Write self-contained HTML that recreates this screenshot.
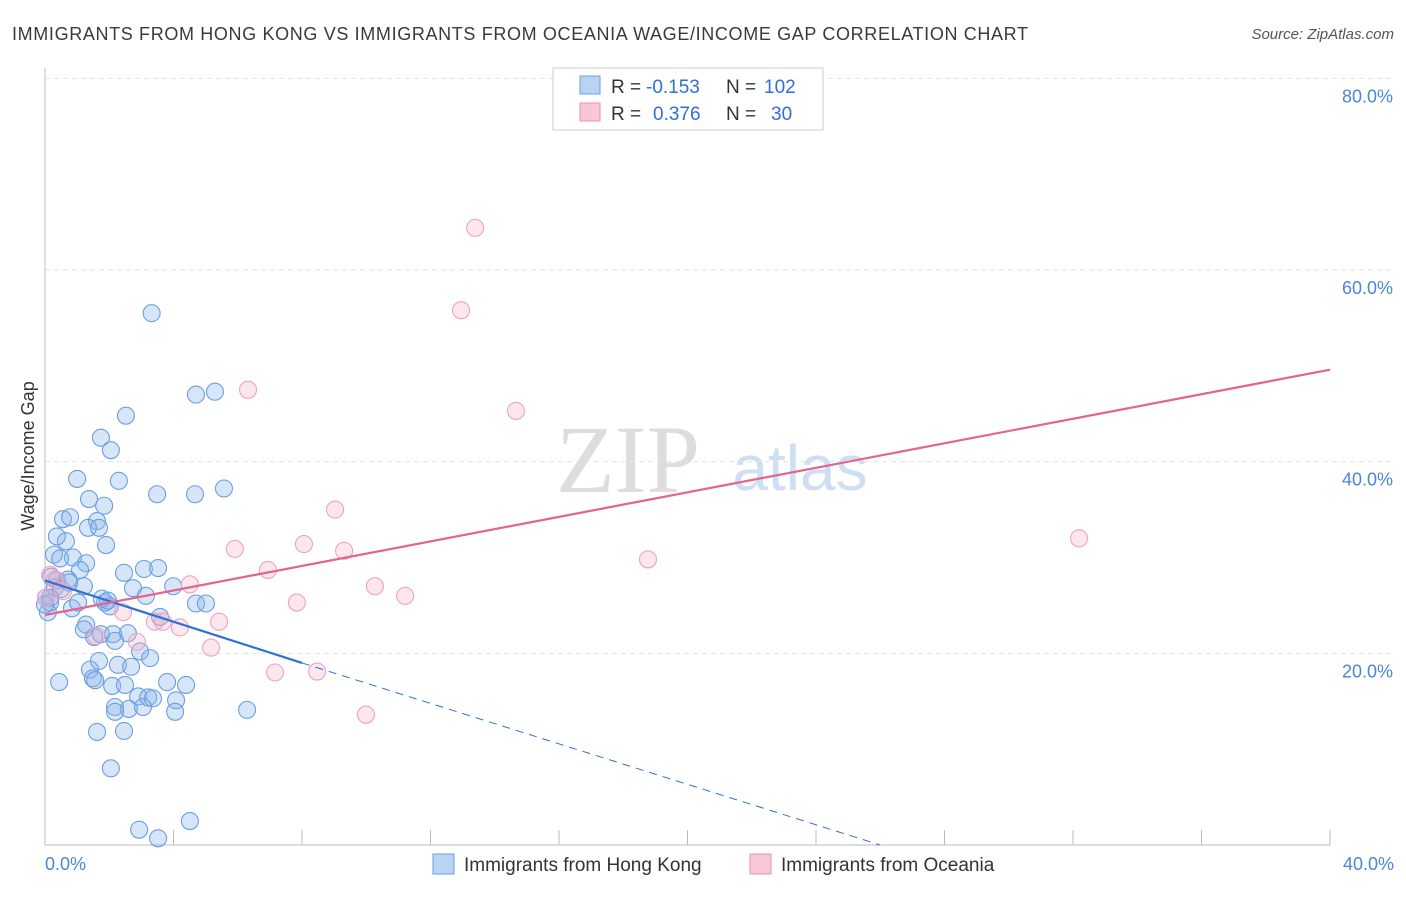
<!DOCTYPE html>
<html><head><meta charset="utf-8"><style>
body{margin:0;background:#fff;font-family:"Liberation Sans",sans-serif;}
</style></head><body>
<svg width="1406" height="892" xmlns="http://www.w3.org/2000/svg" font-family="Liberation Sans, sans-serif">
<text x="12" y="40" font-size="18" fill="#3a3a3a" textLength="1016">IMMIGRANTS FROM HONG KONG VS IMMIGRANTS FROM OCEANIA WAGE/INCOME GAP CORRELATION CHART</text>
<text x="1394" y="39" font-size="15" fill="#555" font-style="italic" text-anchor="end">Source: ZipAtlas.com</text>
<text x="628" y="492" font-size="96" fill="#ddd" font-family="Liberation Serif, serif" text-anchor="middle">ZIP</text>
<text x="800" y="490" font-size="64" fill="#cfdff3" text-anchor="middle">atlas</text>
<g id="grid"></g>
<line x1="45" y1="68" x2="45" y2="845" stroke="#bbb"/>
<line x1="45" y1="845" x2="1330" y2="845" stroke="#bbb"/>
<text x="34" y="456" font-size="18" fill="#333" text-anchor="middle" transform="rotate(-90 34 456)">Wage/Income Gap</text>
<g id="pts"></g>
<g id="lines"></g>
<g>
<rect x="553" y="68" width="270" height="62" fill="#fff" stroke="#ccc"/>
<rect x="580" y="76" width="20" height="18" fill="#b9d3f5" stroke="#6a9fe0"/>
<rect x="580" y="103" width="20" height="18" fill="#f9c6d6" stroke="#e893b0"/>
<text y="93" font-size="19" fill="#333"><tspan x="611">R =</tspan><tspan x="646" fill="#2f6fd6">-0.153</tspan><tspan x="726">N =</tspan><tspan x="764" fill="#2f6fd6">102</tspan></text>
<text y="120" font-size="19" fill="#333"><tspan x="611">R =</tspan><tspan x="653" fill="#2f6fd6">0.376</tspan><tspan x="726">N =</tspan><tspan x="771" fill="#2f6fd6">30</tspan></text>
</g>
<text x="45" y="870" font-size="18" fill="#4a86d8">0.0%</text>
<text x="1394" y="870" font-size="18" fill="#4a86d8" text-anchor="end">40.0%</text>
<g>
<rect x="433" y="854" width="21" height="20" fill="#b9d3f5" stroke="#6a9fe0"/>
<text x="464" y="871" font-size="19" fill="#333">Immigrants from Hong Kong</text>
<rect x="750" y="854" width="21" height="20" fill="#f9c6d6" stroke="#e893b0"/>
<text x="781" y="871" font-size="19" fill="#333">Immigrants from Oceania</text>
</g>
</svg>
<script>
const yTicks=[20,40,60,80];
const xTicks=[0,4,8,12,16,20,24,28,32,36,40];
const blueX=[3.32,5.29,4.70,2.52,1.74,2.05,1.00,2.30,3.49,4.67,5.57,1.37,1.84,0.56,0.78,1.62,1.34,1.68,1.90,0.65,0.37,0.87,0.28,0.47,1.28,2.46,3.08,3.52,0.19,0.37,1.09,0.72,1.21,0.31,0.50,0.75,2.74,3.14,3.99,0.16,1.87,2.02,4.70,5.01,0.09,0.84,1.03,1.77,1.96,0.16,3.58,1.28,1.21,1.53,1.74,2.58,2.12,2.18,2.96,3.27,1.68,2.27,2.68,1.40,1.49,1.56,0.44,2.09,2.49,3.80,4.39,2.90,3.21,3.36,4.08,2.18,2.61,3.05,2.18,4.05,6.29,1.62,2.46,2.05,2.93,3.52,4.51,0.0,0.03];
const blueY=[55.5,47.3,47.0,44.8,42.5,41.2,38.2,38.0,36.6,36.6,37.2,36.1,35.4,34.0,34.2,33.8,33.1,33.1,31.3,31.7,32.2,30.0,30.3,29.9,29.4,28.4,28.8,28.9,28.0,27.6,28.7,27.7,27.0,26.9,26.7,27.4,26.8,26.0,27.0,25.8,25.3,24.9,25.2,25.2,24.3,24.7,25.3,25.7,25.5,25.3,23.8,23.0,22.5,21.7,22.0,22.1,22.0,21.3,20.2,19.5,19.2,18.8,18.6,18.3,17.4,17.2,17.0,16.6,16.7,17.0,16.7,15.5,15.4,15.3,15.1,14.4,14.2,14.4,13.9,13.9,14.1,11.8,11.9,8.0,1.6,0.7,2.5,25.1,25.8];
const pinkX=[13.39,12.95,6.32,14.66,9.03,5.91,8.06,9.31,32.19,18.77,6.94,4.51,10.27,11.21,7.84,2.43,5.42,3.42,3.67,4.20,2.86,5.17,1.59,7.16,8.47,9.99,0.16,0.31,0.03,0.56];
const pinkY=[64.4,55.8,47.5,45.3,35.0,30.9,31.4,30.7,32.0,29.8,28.7,27.2,27.0,26.0,25.3,24.3,23.3,23.3,23.3,22.7,21.2,20.6,21.8,18.0,18.1,13.6,28.2,27.7,25.8,26.5];
const blueTrend=[[0,27.6],[8.0,19.0]];
const blueDash=[[8.0,19.0],[26.0,0]];
const pinkTrend=[[0,24.0],[40,49.6]];
const X=v=>45+v*32.125, Y=v=>845-v*9.583;
const NS='http://www.w3.org/2000/svg';
function mk(t,a,p){const e=document.createElementNS(NS,t);for(const k in a)e.setAttribute(k,a[k]);p.appendChild(e);return e;}
const grid=document.getElementById('grid');
yTicks.forEach(t=>{
 const l=mk('line',{x1:45,x2:1394,y1:Y(t),y2:Y(t),stroke:'#e2e2e2','stroke-dasharray':'5,4'},grid);
 
 
 const tx=mk('text',{x:1393,y:Y(t)+24,'font-size':18,fill:'#4a86d8','text-anchor':'end'},grid);
 tx.textContent=t.toFixed(1)+'%';
 
 
});
xTicks.slice(1).forEach(t=>{
 const l=mk('line',{x1:X(t),x2:X(t),y1:830,y2:845,stroke:'#bbb'},grid);
 
 
});
const pts=document.getElementById('pts');
blueX.forEach((v,i)=>{const c=mk('circle',{cx:X(v),cy:Y(blueY[i]),r:8.5,fill:'rgba(140,180,235,0.35)',stroke:'#6a9fe2','stroke-width':1.1},pts);
 
 });
pinkX.forEach((v,i)=>{const c=mk('circle',{cx:X(v),cy:Y(pinkY[i]),r:8.5,fill:'rgba(245,175,200,0.3)',stroke:'#eda3bc','stroke-width':1.1},pts);
 
 });
const ln=document.getElementById('lines');
let a=mk('line',{x1:X(blueDash[0][0]),y1:Y(blueDash[0][1]),x2:X(blueDash[1][0]),y2:Y(blueDash[1][1]),stroke:'#2f6fd6','stroke-width':1,'stroke-dasharray':'8,6'},ln);


a=mk('line',{x1:X(blueTrend[0][0]),y1:Y(blueTrend[0][1]),x2:X(blueTrend[1][0]),y2:Y(blueTrend[1][1]),stroke:'#2f6fd6','stroke-width':2.2},ln);


a=mk('line',{x1:X(pinkTrend[0][0]),y1:Y(pinkTrend[0][1]),x2:X(pinkTrend[1][0]),y2:Y(pinkTrend[1][1]),stroke:'#e4638f','stroke-width':2.2},ln);


</script>
</body></html>
